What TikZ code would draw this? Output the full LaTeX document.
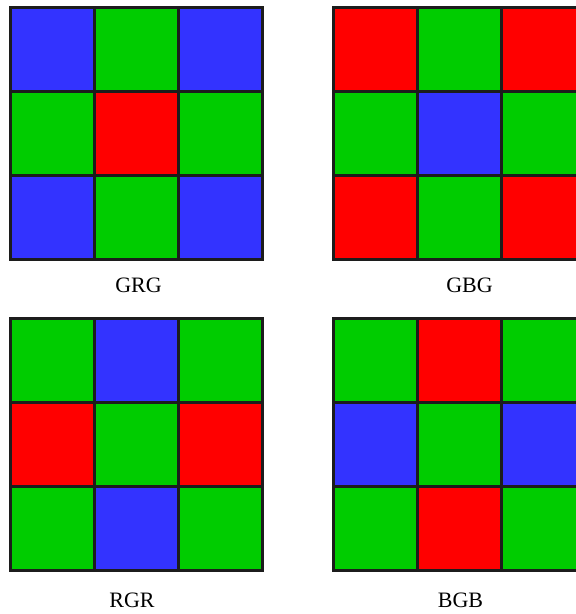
\documentclass[tikz,border=0pt]{standalone}
\usepackage{fontspec}
\setmainfont{Liberation Serif}
\usetikzlibrary{positioning}
\definecolor{vermelho}{HTML}{FF0000}
\definecolor{verde}{HTML}{00CC00}
\definecolor{azul}{HTML}{3333FF}
\definecolor{linha}{HTML}{1C1C1C}

\begin{document}
\begin{tikzpicture}[x=0.75pt, y=-0.75pt, font=\fontsize{16.5}{20}\selectfont,
  grade/.style={draw=linha, line width=2.25pt},
  rot/.style={anchor=base}]
  \useasboundingbox (0,0) rectangle (575,614);
  % corner / column / row / centre colours of each 3x3 tile
  \foreach \ox/\oy/\co/\cv/\ch/\cc in {10.5/7.5/azul/verde/verde/vermelho,
      333.5/7.5/vermelho/verde/verde/azul,
      10.5/318.5/verde/azul/vermelho/verde,
      333.5/318.5/verde/vermelho/azul/verde} {
    \fill[\co] (\ox,\oy) rectangle ++(252,252);
    \fill[\cv] (\ox+84,\oy) rectangle ++(84,252);
    \fill[\ch] (\ox,\oy+84) rectangle ++(252,84);
    \fill[\cc] (\ox+84,\oy+84) rectangle ++(84,84);
    \foreach \k in {1,2} {
      \draw[grade] (\ox+\k*84,\oy) -- ++(0,252);
      \draw[grade] (\ox,\oy+\k*84) -- ++(252,0);
    }
    \draw[grade] (\ox,\oy) rectangle ++(252,252);
  }
  \node[rot] (grg) at (138.5,292) {GRG};
  \node[rot] (gbg) at (469.5,292) {GBG};
  \node[rot] (rgr) at (132,607.5) {RGR};
  \node[rot] (bgb) at (460.5,607.5) {BGB};
\end{tikzpicture}
\end{document}
